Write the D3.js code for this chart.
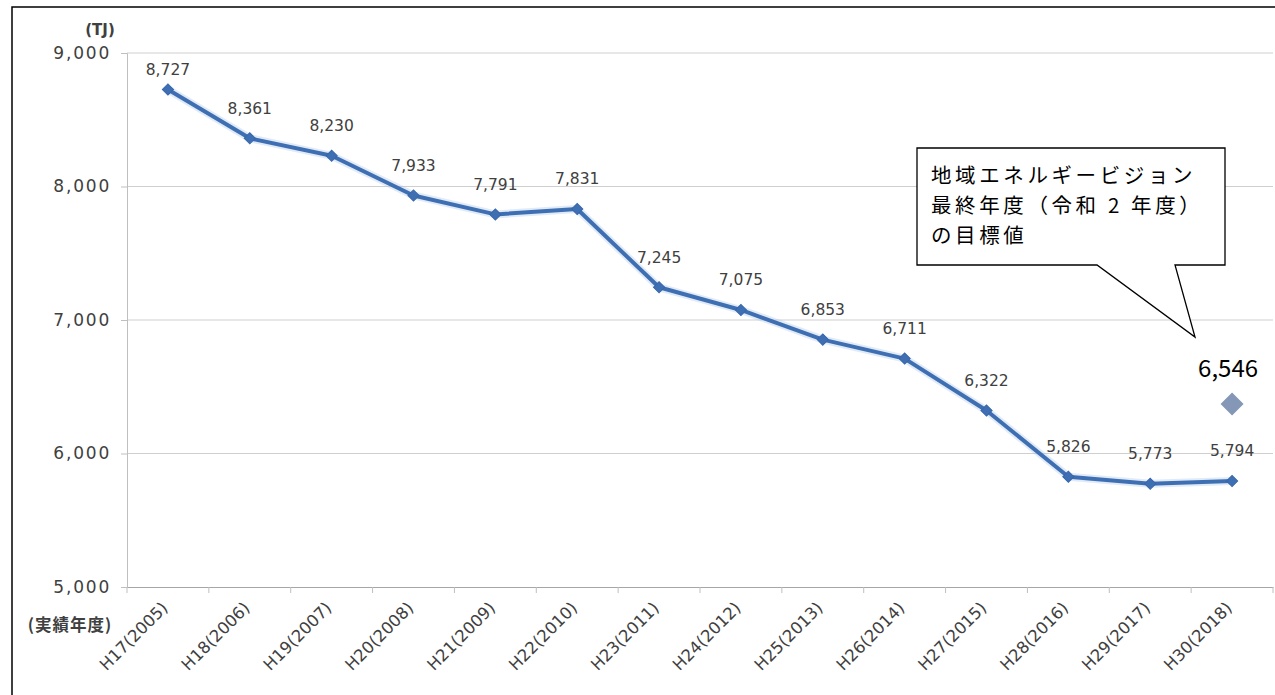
<!DOCTYPE html>
<html><head><meta charset="utf-8">
<script src="https://cdn.jsdelivr.net/npm/d3@7"></script>
<style>
html,body{margin:0;padding:0;background:#fff;}
svg{display:block;}
</style></head>
<body>
<svg id="c" width="1275" height="695"></svg>
<script>
const categories = ["H17(2005)","H18(2006)","H19(2007)","H20(2008)","H21(2009)","H22(2010)","H23(2011)","H24(2012)","H25(2013)","H26(2014)","H27(2015)","H28(2016)","H29(2017)","H30(2018)"];
const values = [8727,8361,8230,7933,7791,7831,7245,7075,6853,6711,6322,5826,5773,5794];
const yTicks = [5000,6000,7000,8000,9000];
const targetLabel = 6546;          // target value shown as label
const targetMarkerLevel = 6370;    // where the target diamond sits on the picture
const targetCategory = "H30(2018)";
const calloutLines = ["地域エネルギービジョン","最終年度（令和 2 年度）","の目標値"];

(function(){
const svg = d3.select("#c");
const fmt = d3.format(",");
const pLeft = 127, pRight = 1273, pTop = 53, pBottom = 587;

// outer frame
svg.append("rect").attr("x",12).attr("y",7).attr("width",1275).attr("height",700)
  .attr("fill","none").attr("stroke","#000").attr("stroke-width",1.5);

const x = d3.scaleBand().domain(categories).range([pLeft,pRight]).padding(0);
const y = d3.scaleLinear().domain([5000,9000]).range([pBottom,pTop]);

// gridlines
svg.append("g").selectAll("line").data(yTicks.filter(d=>d>5000)).join("line")
  .attr("x1",pLeft).attr("x2",pRight).attr("y1",d=>y(d)).attr("y2",d=>y(d))
  .attr("stroke","#cfcfcf").attr("stroke-width",1.2);

// y axis
const yAxis = svg.append("g").attr("transform",`translate(${pLeft},0)`)
  .call(d3.axisLeft(y).tickValues(yTicks).tickFormat(fmt).tickSize(6).tickPadding(12));
yAxis.select(".domain").attr("stroke","#bfbfbf");
yAxis.selectAll(".tick line").attr("stroke","#bfbfbf");
yAxis.selectAll(".tick text").attr("font-family","'DejaVu Sans',Verdana,sans-serif")
  .attr("font-size",17).attr("letter-spacing",1.8).attr("fill","#404040").attr("dx",2);

// x axis
const xAxis = svg.append("g").attr("transform",`translate(0,${pBottom})`)
  .call(d3.axisBottom(x).tickSize(0).tickPadding(0));
xAxis.select(".domain").attr("stroke","#a6a6a6").attr("stroke-width",1.2);
svg.append("g").selectAll("line").data(categories.map(c=>x(c)).concat([pRight])).join("line")
  .attr("x1",d=>d).attr("x2",d=>d).attr("y1",pBottom).attr("y2",pBottom+6)
  .attr("stroke","#bfbfbf");
xAxis.selectAll(".tick text")
  .attr("font-family","'DejaVu Sans',Verdana,sans-serif").attr("font-size",16.5)
  .attr("fill","#404040").attr("text-anchor","end").attr("dy",0)
  .attr("transform","translate(1,22) rotate(-45)");

// axis titles
svg.append("text").attr("x",100).attr("y",35).attr("text-anchor","middle")
  .attr("font-family","'DejaVu Sans',sans-serif").attr("font-weight","bold")
  .attr("font-size",15).attr("fill","#404040").text("(TJ)");
svg.append("text").attr("x",70).attr("y",625).attr("dy","0.35em").attr("text-anchor","middle")
  .attr("font-family","'Noto Sans CJK JP',sans-serif").attr("font-weight","bold")
  .attr("font-size",16.5).attr("letter-spacing",1).attr("fill","#404040").text("(実績年度)");

// line
const cx = d => x(d) + x.bandwidth()/2;
const line = d3.line().x((d,i)=>cx(categories[i])).y(d=>y(d));
svg.append("path").datum(values).attr("d",line).attr("fill","none")
  .attr("stroke","#a9c6ec").attr("stroke-opacity",0.35).attr("stroke-width",8)
  .attr("stroke-linejoin","round");
svg.append("path").datum(values).attr("d",line).attr("fill","none")
  .attr("stroke","#3f6fb3").attr("stroke-width",4).attr("stroke-linejoin","round");

// markers (square diamonds)
const sq = d3.symbol().type(d3.symbolSquare).size(62);
svg.append("g").selectAll("path").data(values).join("path")
  .attr("d",sq)
  .attr("transform",(d,i)=>`translate(${cx(categories[i])},${y(d)}) rotate(45)`)
  .attr("fill","#3f6fb3").attr("stroke","#3866aa").attr("stroke-width",1);

// data labels
svg.append("g").selectAll("text").data(values).join("text")
  .attr("x",(d,i)=>cx(categories[i]))
  .attr("y",d=>Math.max(y(d)-30, 70))
  .attr("dy","0.35em").attr("text-anchor","middle")
  .attr("font-family","'DejaVu Sans',Verdana,sans-serif").attr("font-size",15.5)
  .attr("fill","#404040").text(d=>fmt(d));

// target marker
const tx = cx(targetCategory);
svg.append("path").attr("d",d3.symbol().type(d3.symbolSquare).size(265))
  .attr("transform",`translate(${tx},${y(targetMarkerLevel)}) rotate(45)`).attr("fill","#8497b6");
svg.append("text").attr("x",tx-4).attr("y",y(targetMarkerLevel)-36).attr("dy","0.35em")
  .attr("text-anchor","middle").attr("font-family","'Noto Sans CJK JP',sans-serif")
  .attr("font-size",24).attr("fill","#000").text(fmt(targetLabel));

// callout
const bx0=917, by0=148, bx1=1225, by1=265;
svg.append("path")
  .attr("d",`M${bx0},${by0} L${bx1},${by0} L${bx1},${by1} L1175,${by1} L1195,337 L1097,${by1} L${bx0},${by1} Z`)
  .attr("fill","#fff").attr("stroke","#000").attr("stroke-width",1.3);
svg.append("g").selectAll("text").data(calloutLines).join("text")
  .attr("x",931).attr("y",(d,i)=>176+i*30).attr("dy","0.36em")
  .attr("font-family","'Noto Sans CJK JP',sans-serif").attr("font-size",20.5)
  .attr("letter-spacing",3.6).attr("fill","#000").text(d=>d);
})();
</script>
</body></html>
